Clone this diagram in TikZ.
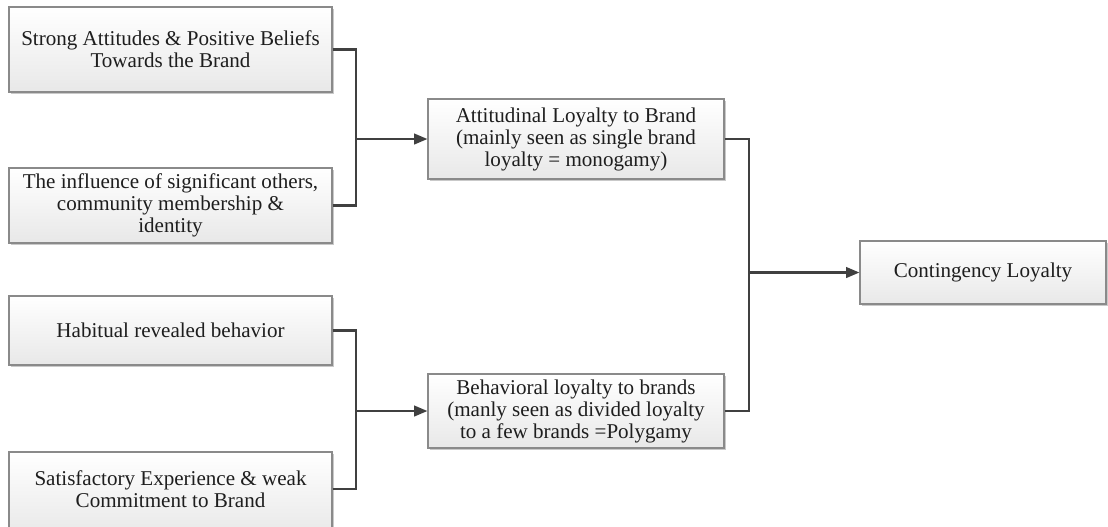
\documentclass[tikz,border=0pt]{standalone}
\usepackage{fontspec}
\setmainfont{Liberation Serif}
\usetikzlibrary{shadows,arrows.meta}
\definecolor{boxline}{HTML}{8A8A8A}
\definecolor{linec}{HTML}{404040}
\definecolor{txt}{HTML}{1E1E1E}
\tikzset{
  boxtext/.style={align=center, inner sep=2pt, text=txt, font=\fontsize{15.8}{16.5}\selectfont},
  box/.style={boxtext, rectangle, draw=boxline, line width=0.9pt, top color=white, bottom color=black!9,
    drop shadow={shadow xshift=1.5pt, shadow yshift=-1.5pt, fill=black!35, opacity=0.6}},
  conn/.style={draw=linec, line width=1.6pt},
  arr/.style={conn, -{Triangle[length=10pt,width=8pt]}},
}
\begin{document}
\begin{tikzpicture}[x=0.75pt,y=-0.75pt]
\useasboundingbox (0,0) rectangle (1108,526);
\clip (0,0) rectangle (1108,526);
\fill[white] (0,0) rectangle (1108,526);
\node[box, minimum width=323*0.75pt, minimum height=85*0.75pt] (b1) at (170.5,49.5) {Strong Attitudes \& Positive Beliefs\\Towards the Brand};
\node[box, minimum width=323*0.75pt, minimum height=75*0.75pt] (b2) at (170.5,205.5) {The influence of significant others,\\community membership \&\\identity};
\node[box, minimum width=323*0.75pt, minimum height=69*0.75pt] (b4) at (170.5,330.5) {Habitual revealed behavior};
\node[box, minimum width=323*0.75pt, minimum height=84*0.75pt] (b5) at (170.5,494) {};
\node[boxtext] (b5t) at (170.5,489) {Satisfactory Experience \& weak\\Commitment to Brand};
\node[box, minimum width=296*0.75pt, minimum height=80*0.75pt] (att) at (576,139) {Attitudinal Loyalty to Brand\\(mainly seen as single brand\\loyalty = monogamy)};
\node[box, minimum width=296*0.75pt, minimum height=74*0.75pt] (beh) at (576,411) {Behavioral loyalty to brands\\(manly seen as divided loyalty\\to a few brands =Polygamy};
\node[box, minimum width=246*0.75pt, minimum height=63*0.75pt] (cont) at (983,272.5) {Contingency Loyalty};
\coordinate (j1) at (356,139);
\coordinate (j2) at (356,411);
\coordinate (j3) at (749,272.5);
\draw[conn] (b1.east) -| (j1);
\draw[conn] (b2.east) -| (j1);
\draw[arr] (j1) -- (att.west);
\draw[conn] (b4.east) -| (j2);
\draw[conn] (b5.east |- b5t.east) -| (j2);
\draw[arr] (j2) -- (beh.west);
\draw[conn] (att.east) -| (j3);
\draw[conn] (beh.east) -| (j3);
\draw[arr] (j3) -- (cont.west);
\end{tikzpicture}
\end{document}
